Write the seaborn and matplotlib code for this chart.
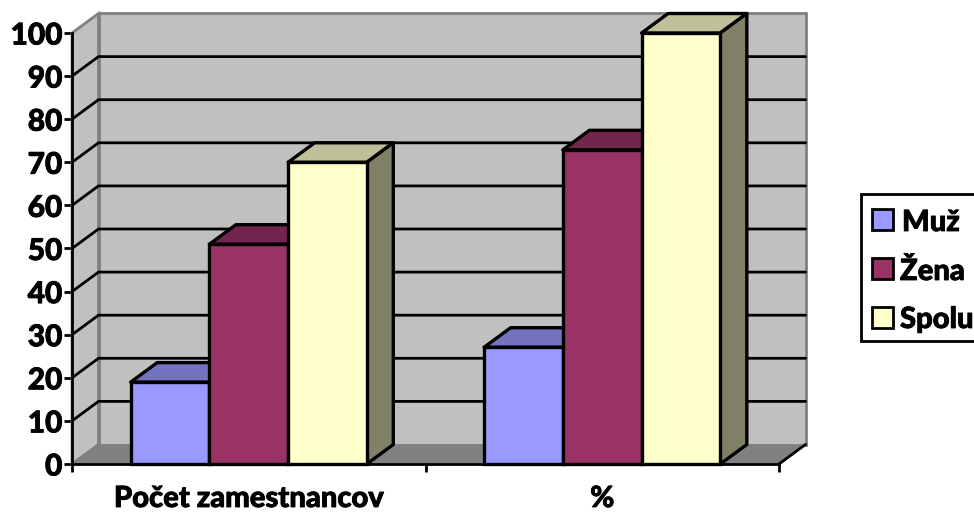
import matplotlib
matplotlib.use("Agg")
import matplotlib.pyplot as plt
import matplotlib.patheffects as pe
import numpy as np
import pandas as pd
import seaborn as sns
from matplotlib.patches import Polygon, Rectangle
from matplotlib.colors import to_rgb

categories = ["Počet zamestnancov", "%"]
series_names = ["Muž", "Žena", "Spolu"]
muz = [19, 27.1]
zena = [51, 72.9]
spolu = [70, 100]
y_ticks = list(range(0, 101, 10))
colors = ["#9999FF", "#993366", "#FFFFCC"]

W, H = 974, 512
X0, X1, Y0, Y1 = 72, 779, 464, 33   # front plane of the chart, in pixels
DX, DY = 26.5, 19.5                 # depth offset, in pixels

sns.set_theme(style="white")
plt.rcParams["font.family"] = ["Lato", "DejaVu Sans"]
plt.rcParams["font.weight"] = "bold"
TEXT_WEIGHT = 900
HEAVY = [pe.withStroke(linewidth=0.6, foreground="black")]

fig = plt.figure(figsize=(W / 100, H / 100), dpi=100, facecolor="white")
ax = fig.add_axes([X0 / W, 1 - Y0 / H, (X1 - X0) / W, (Y0 - Y1) / H])
ax.set_facecolor("none")

df = pd.DataFrame({
    "kategoria": categories * 3,
    "pohlavie": np.repeat(series_names, 2),
    "hodnota": muz + zena + spolu,
})
sns.barplot(data=df, x="kategoria", y="hodnota", hue="pohlavie", hue_order=series_names,
            palette=colors, saturation=1, width=0.668, dodge=True, gap=0,
            edgecolor="black", linewidth=2.4, ax=ax, legend=False, zorder=5)
ax.set_xlim(-0.5, 1.5)
ax.set_ylim(0, 100)

# depth expressed in data units
dx = DX * 2 / (X1 - X0)
dy = DY * 100 / (Y0 - Y1)

# floor and walls
wall = "#C0C0C0"
floor = "#808080"
x_l, x_r = -0.5, 1.5
ax.add_patch(Polygon([(x_l, 0), (x_l + dx, dy), (x_r + dx, dy), (x_r, 0)], closed=True,
                     fc=floor, ec=floor, lw=1.2, zorder=1, clip_on=False))
ax.add_patch(Polygon([(x_l, 0), (x_l + dx, dy), (x_l + dx, 100 + dy), (x_l, 100)], closed=True,
                     fc=wall, ec="#808080", lw=2, zorder=1, clip_on=False))
ax.add_patch(Rectangle((x_l + dx, dy), x_r - x_l, 100, fc=wall, ec="#808080", lw=2,
                       zorder=1, clip_on=False))

# gridlines run along the side wall and then across the back wall
for t in y_ticks[1:-1]:
    ax.plot([x_l, x_l + dx, x_r + dx], [t, t + dy, t + dy], color="black", lw=2,
            zorder=2, clip_on=False, solid_joinstyle="miter")

# dark right-hand edge of the floor
ax.plot([x_r, x_r + dx], [0, dy], color="black", lw=2, zorder=2, clip_on=False)

def shade(color, factor):
    return tuple(c * factor for c in to_rgb(color))

# side and top faces of every bar, extruded from the bars seaborn drew
bars = [p for p in ax.patches if isinstance(p, Rectangle) and p.get_zorder() == 5]
for bar in sorted(bars, key=lambda b: b.get_x()):
    x, w, h = bar.get_x(), bar.get_width(), bar.get_height()
    c = bar.get_facecolor()[:3]
    ax.add_patch(Polygon([(x, h), (x + dx, h + dy), (x + w + dx, h + dy), (x + w, h)], closed=True,
                         fc=shade(c, 0.75), ec="black", lw=2.4, zorder=4, clip_on=False,
                         joinstyle="round"))
    ax.add_patch(Polygon([(x + w, 0), (x + w + dx, dy), (x + w + dx, h + dy), (x + w, h)], closed=True,
                         fc=shade(c, 0.5), ec="black", lw=2.4, zorder=4, clip_on=False,
                         joinstyle="round"))
    bar.set_clip_on(False)

# axes and labels
sns.despine(ax=ax, top=True, right=True)
for side in ("left", "bottom"):
    ax.spines[side].set_linewidth(2)
    ax.spines[side].set_color("black")
    ax.spines[side].set_zorder(6)
ax.set_xlabel("")
ax.set_ylabel("")
ax.set_yticks(y_ticks)
ax.set_yticklabels([str(t) for t in y_ticks], fontsize=21.5, fontweight=TEXT_WEIGHT, color="black",
                   path_effects=HEAVY)
ax.set_xticks([-0.5, 0.5, 1.5])
ax.set_xticklabels([])
ax.tick_params(axis="both", length=5.5, width=2, color="black", direction="out", left=True, bottom=True)
ax.tick_params(axis="y", pad=1.5)
for i, name in enumerate(categories):
    ax.annotate(name, xy=(i, 0), xycoords="data", xytext=(0, -43), textcoords="offset pixels",
                ha="center", va="baseline", fontsize=21, fontweight=TEXT_WEIGHT, color="black",
                annotation_clip=False, path_effects=HEAVY)

# legend box runs off the right edge of the figure
fig.add_artist(Rectangle((861 / W, 1 - 341 / H), 140 / W, 147 / H, transform=fig.transFigure,
                         fc="white", ec="black", lw=2))
for name, color, ytop, base, xt in zip(series_names, colors, [209, 258, 307], [231, 280, 328], [902, 900, 900]):
    fig.add_artist(Rectangle((872 / W, 1 - (ytop + 21) / H), 21 / W, 21 / H, transform=fig.transFigure,
                             fc=color, ec="black", lw=2))
    fig.text(xt / W, 1 - base / H, name, ha="left", va="baseline", fontsize=21,
             fontweight=TEXT_WEIGHT, color="black", path_effects=HEAVY)

fig.savefig("out.png", dpi=100)
